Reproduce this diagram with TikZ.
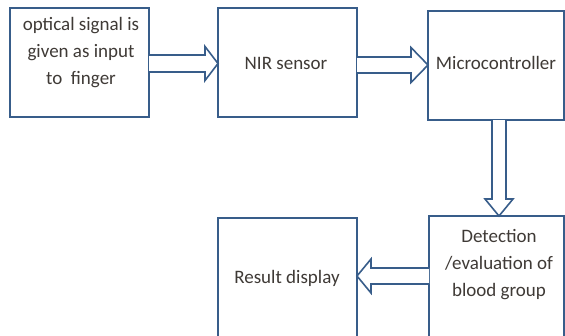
\documentclass[tikz,border=0pt]{standalone}
\usepackage{fontspec}
\setmainfont{Carlito}
\usetikzlibrary{calc}
\definecolor{boxblue}{HTML}{385D8A}
\definecolor{txt}{HTML}{3F3A36}
\begin{document}
\begin{tikzpicture}[x=1pt,y=-1pt,
  blk/.style={draw=boxblue,line width=1.8pt,fill=white,rectangle,inner sep=0pt,outer sep=0pt},
  lbl/.style={text=txt,font=\fontsize{19}{27}\selectfont,align=center,inner sep=0pt},
  barrow/.style={draw=boxblue,line width=1.6pt,fill=white,line join=miter}]
\useasboundingbox (0,0) rectangle (565,335);
\clip (0,0) rectangle (565,335);
% boxes
\node[blk,minimum width=139pt,minimum height=109pt] (b1) at (79.5,62.5) {};
\node[blk,minimum width=139pt,minimum height=109pt] (b2) at (287.5,62.5) {};
\node[blk,minimum width=136pt,minimum height=109pt] (b3) at (496,65.5) {};
\node[blk,minimum width=135pt,minimum height=129pt] (b4) at (496.5,280.5) {};
\node[blk,minimum width=139pt,minimum height=127pt] (b5) at (287.5,281.5) {};
% texts
\node[lbl] (t1) at (81,53) {optical signal is\\given as input\\to\ \ finger};
\node[lbl] (t2) at (286,63) {NIR sensor};
\node[lbl] (t3) at (496,63) {Microcontroller};
\node[lbl] (t4) at (499,265) {Detection\\/evaluation of\\blood group};
\node[lbl] (t5) at (287,278) {Result display};
% arrow b1 -> b2
\draw[barrow] let \p1=(b1.east), \p2=(b2.west) in
  (\x1,63.5-8.5) -- (\x2-13,63.5-8.5) -- (\x2-13,63.5-17) -- (\x2,63.5)
  -- (\x2-13,63.5+17) -- (\x2-13,63.5+8.5) -- (\x1,63.5+8.5);
% arrow b2 -> b3
\draw[barrow] let \p1=(b2.east), \p2=(b3.west) in
  (\x1,65-8) -- (\x2-17,65-8) -- (\x2-17,65-17.5) -- (\x2,65)
  -- (\x2-17,65+17.5) -- (\x2-17,65+8) -- (\x1,65+8);
% arrow b3 -> b4
\draw[barrow] let \p1=(b3.south), \p2=(b4.north) in
  (499-7,\y1) -- (499-7,\y2+17) -- (499-14,\y2+17) -- (499,\y2)
  -- (499+14,\y2+17) -- (499+7,\y2+17) -- (499+7,\y1);
% arrow b4 -> b5
\draw[barrow] let \p1=(b4.west), \p2=(b5.east) in
  (\x1,276-8) -- (\x2+14,276-8) -- (\x2+14,276-17) -- (\x2,276)
  -- (\x2+14,276+17) -- (\x2+14,276+8) -- (\x1,276+8);
\end{tikzpicture}
\end{document}
